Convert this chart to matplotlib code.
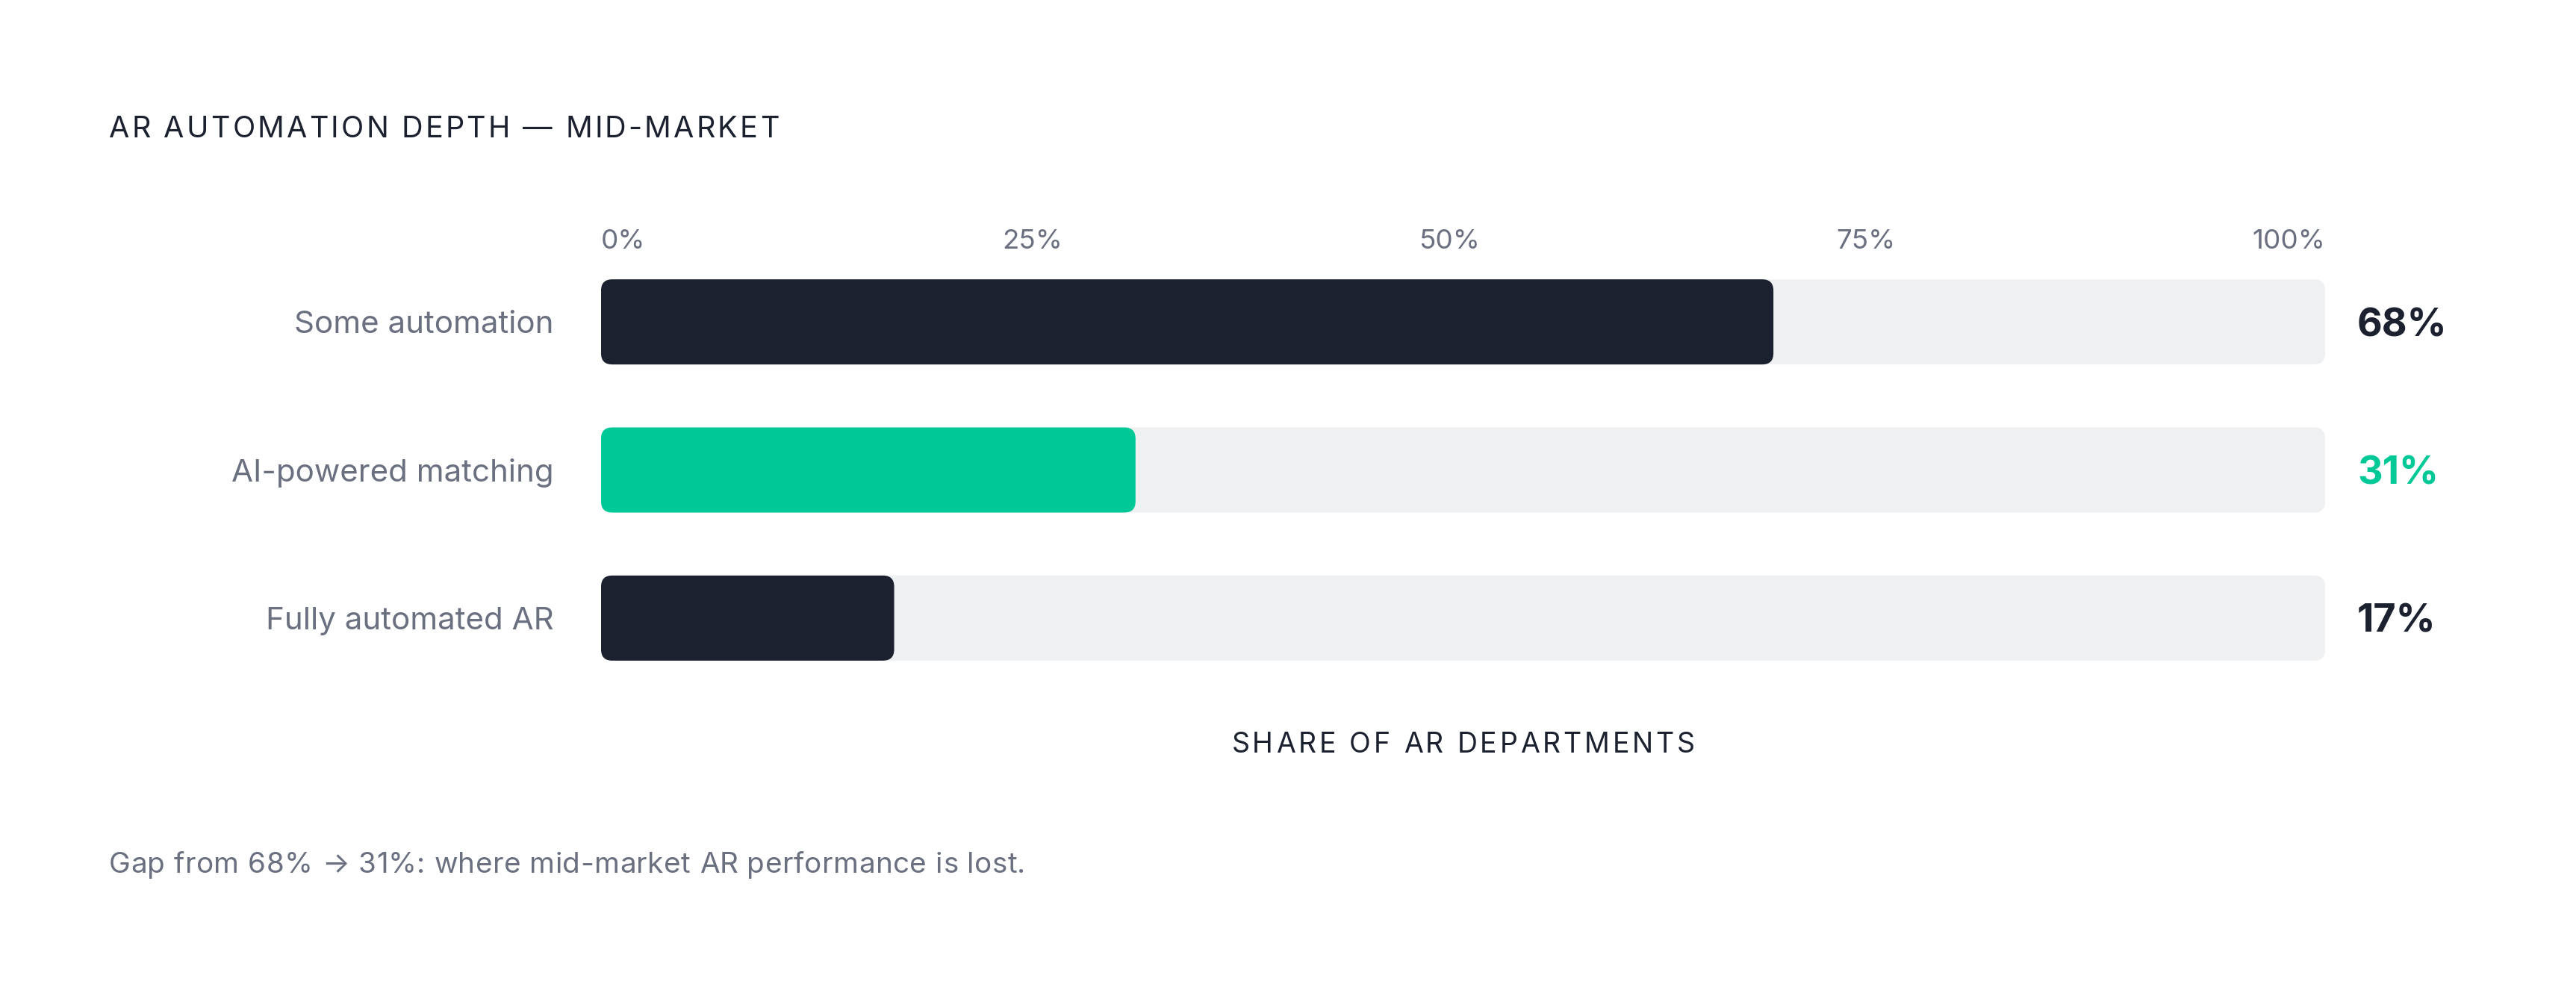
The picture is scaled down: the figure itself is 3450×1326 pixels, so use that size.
import matplotlib
matplotlib.use("Agg")
import matplotlib.pyplot as plt
from matplotlib.patches import FancyBboxPatch
from matplotlib.font_manager import FontProperties, findfont, get_font

# ---------------- data ----------------
categories = ["Some automation", "AI-powered matching", "Fully automated AR"]
values = [68, 31, 17]
highlight = [False, True, False]
tick_values = [0, 25, 50, 75, 100]
tick_labels = ["0%", "25%", "50%", "75%", "100%"]
title = "AR AUTOMATION DEPTH — MID-MARKET"
xlabel = "SHARE OF AR DEPARTMENTS"
footnote = "Gap from 68% → 31%: where mid-market AR performance is lost."

# ---------------- style ----------------
W, H, DPI = 3450, 1326, 100
DARK = "#1c2130"
GREEN = "#00c896"
TRACK = "#eff0f2"
GRAY = "#6b7080"
FAM = ["Inter", "DejaVu Sans"]
plt.rcParams["font.family"] = FAM

fig = plt.figure(figsize=(W / DPI, H / DPI), dpi=DPI)
fig.patch.set_facecolor("white")


def fx(px):
    return px / W


def fy(py):
    return 1 - py / H


def advances(s, size, weight="normal"):
    fp = FontProperties(family=FAM, size=size, weight=weight)
    font = get_font(findfont(fp))
    font.set_size(size, DPI)
    return fp, [font.load_char(ord(c)).linearHoriAdvance / 65536 for c in s]


def tracked(x_px, y_px, s, size, color, tracking_em, ha="left", weight="normal"):
    fp, adv = advances(s, size, weight)
    trk = tracking_em * size * DPI / 72
    total = sum(adv) + trk * (len(s) - 1)
    x = x_px if ha == "left" else x_px - total / 2
    for c, a in zip(s, adv):
        if c != " ":
            fig.text(fx(x), fy(y_px), c, fontproperties=fp, color=color,
                     ha="left", va="baseline")
        x += a + trk


# ---------------- axes ----------------
ax_l, ax_r, ax_t, ax_b = 805, 3114, 332, 927
ax = fig.add_axes([fx(ax_l), fy(ax_b), (ax_r - ax_l) / W, (ax_b - ax_t) / H])
ax.set_xlim(tick_values[0], tick_values[-1])
ax.set_ylim(len(categories) - 0.5, -0.5)
for sp in ax.spines.values():
    sp.set_visible(False)
ax.set_xticks([])
ax.set_yticks(range(len(categories)))
ax.set_yticklabels(categories)
ax.tick_params(axis="y", length=0, pad=63 * 72 / DPI, labelsize=30.3, labelcolor=GRAY)
ax.set_facecolor("none")

px_x = (ax_r - ax_l) / (tick_values[-1] - tick_values[0])
px_y = (ax_b - ax_t) / len(categories)
bar_h = 114 / px_y
radius_px = 15
r = radius_px / px_x
asp = px_x / px_y

for i, (v, hl) in enumerate(zip(values, highlight)):
    track = FancyBboxPatch((tick_values[0], i - bar_h / 2), tick_values[-1] - tick_values[0], bar_h,
                           boxstyle=f"round,pad=0,rounding_size={r}", mutation_aspect=asp,
                           fc=TRACK, ec="none", zorder=1)
    ax.add_patch(track)
    col = GREEN if hl else DARK
    bar = FancyBboxPatch((0, i - bar_h / 2), v, bar_h,
                         boxstyle=f"round,pad=0,rounding_size={r}", mutation_aspect=asp,
                         fc=col, ec="none", zorder=2)
    ax.add_patch(bar)
    ax.annotate(f"{v}%", xy=(tick_values[-1], i), xytext=(43 * 72 / DPI, 0),
                textcoords="offset points", ha="left", va="center_baseline",
                fontsize=37.5, fontweight="bold", color=col)

# ---------------- top tick labels (space-between) ----------------
tick_size = 26.5
widths = [sum(advances(t, tick_size)[1]) for t in tick_labels]
gap = ((ax_r - ax_l) - sum(widths)) / (len(tick_labels) - 1)
x = ax_l
for t, w in zip(tick_labels, widths):
    fig.text(fx(x), fy(333), t, fontsize=tick_size, color=GRAY, ha="left", va="baseline")
    x += w + gap

# ---------------- titles ----------------
tracked(146, 184, title, 28.5, DARK, 0.08)
tracked((ax_l + ax_r) / 2, 1008, xlabel, 27, DARK, 0.10, ha="center")
tracked(146, 1169, footnote, 27.8, GRAY, 0.013)

fig.savefig("out.png", dpi=DPI, facecolor="white")
